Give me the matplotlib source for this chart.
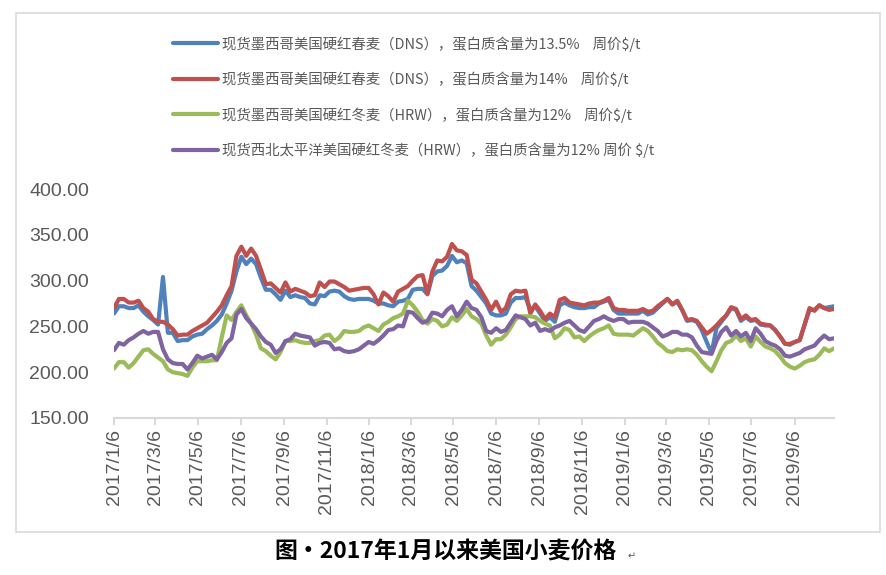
import pandas as pd
import matplotlib
matplotlib.use('Agg')
import matplotlib.pyplot as plt
import matplotlib.dates as mdates
from matplotlib.patches import Rectangle
from matplotlib.ticker import FuncFormatter

plt.rcParams['font.family'] = ['Noto Sans CJK SC', 'DejaVu Sans']

# weekly quotes, Friday 2017/1/6 onward
dates = pd.date_range('2017-01-06', periods=148, freq='7D')

labels = ['现货墨西哥美国硬红春麦（DNS），蛋白质含量为13.5%    周价$/t',
          '现货墨西哥美国硬红春麦（DNS），蛋白质含量为14%    周价$/t',
          '现货墨西哥美国硬红冬麦（HRW），蛋白质含量为12%    周价$/t',
          '现货西北太平洋美国硬红冬麦（HRW），蛋白质含量为12% 周价 $/t']

dns135 = [264, 272, 272, 270, 270, 273, 266, 261, 257, 252,
          304, 243, 243, 234, 235, 235, 239, 241, 242, 247,
          251, 256, 263, 275, 289, 310, 326, 318, 324, 318,
          303, 290, 290, 285, 279, 289, 282, 284, 282, 281,
          275, 274, 284, 283, 288, 289, 288, 283, 280, 279,
          280, 280, 280, 278, 275, 275, 273, 272, 277, 278,
          280, 290, 291, 291, 285, 305, 310, 311, 316, 327,
          320, 322, 319, 294, 289, 282, 275, 264, 262, 262,
          264, 276, 281, 281, 282, 268, 272, 264, 256, 260,
          255, 273, 276, 273, 271, 270, 270, 271, 271, 275,
          277, 279, 268, 264, 264, 264, 264, 264, 267, 263,
          265, 270, 275, 280, 274, 277, 268, 256, 257, 255,
          246, 233, 221, 248, 255, 262, 270, 268, 256, 260,
          256, 257, 252, 251, 251, 246, 239, 231, 230, 233,
          235, 252, 268, 268, 273, 270, 271, 272]

dns14 = [270, 280, 280, 276, 276, 278, 270, 266, 258, 255,
         255, 252, 247, 240, 241, 241, 245, 248, 251, 254,
         260, 266, 273, 284, 294, 327, 337, 327, 335, 327,
         312, 296, 297, 292, 287, 298, 288, 291, 289, 287,
         283, 284, 298, 293, 299, 299, 296, 293, 289, 290,
         291, 292, 292, 285, 274, 287, 283, 277, 288, 291,
         294, 300, 305, 306, 286, 310, 322, 321, 326, 340,
         333, 332, 328, 301, 297, 288, 279, 268, 277, 266,
         270, 285, 289, 288, 289, 264, 274, 267, 258, 264,
         260, 279, 281, 276, 275, 274, 273, 275, 276, 276,
         278, 281, 270, 268, 268, 267, 267, 267, 269, 266,
         267, 272, 276, 280, 274, 278, 268, 257, 258, 256,
         249, 242, 246, 251, 257, 262, 271, 269, 258, 262,
         257, 258, 253, 252, 251, 246, 239, 231, 231, 233,
         235, 252, 270, 267, 273, 270, 268, 269]

hrw_mx = [204, 211, 211, 205, 210, 217, 224, 225, 220, 216,
          212, 203, 200, 199, 198, 196, 205, 212, 212, 212,
          213, 213, 238, 262, 257, 266, 273, 262, 253, 241,
          226, 223, 218, 214, 222, 234, 234, 235, 233, 232,
          232, 234, 235, 240, 241, 234, 238, 245, 244, 244,
          245, 249, 251, 248, 245, 252, 255, 259, 261, 264,
          278, 273, 266, 257, 253, 258, 256, 250, 252, 260,
          256, 262, 269, 261, 258, 253, 240, 230, 236, 236,
          241, 249, 258, 261, 261, 261, 260, 256, 253, 251,
          237, 241, 248, 246, 238, 239, 234, 239, 243, 246,
          248, 251, 242, 241, 241, 241, 240, 244, 248, 245,
          239, 232, 228, 223, 222, 225, 224, 225, 224, 219,
          212, 206, 201, 212, 224, 232, 234, 240, 234, 237,
          228, 239, 233, 228, 226, 223, 217, 210, 206, 204,
          207, 211, 213, 214, 219, 226, 223, 226]

hrw_pnw = [224, 232, 230, 235, 238, 242, 245, 242, 244, 244,
           225, 214, 210, 209, 209, 203, 210, 218, 215, 217,
           219, 214, 222, 232, 237, 263, 269, 259, 253, 247,
           239, 233, 230, 221, 225, 234, 236, 242, 240, 239,
           238, 229, 232, 233, 232, 225, 226, 223, 222, 223,
           225, 229, 233, 231, 235, 240, 246, 247, 251, 250,
           266, 265, 259, 254, 256, 265, 264, 261, 268, 272,
           261, 268, 277, 270, 268, 260, 245, 243, 248, 244,
           246, 254, 262, 260, 258, 251, 254, 245, 247, 245,
           249, 251, 254, 256, 251, 246, 244, 250, 256, 258,
           261, 258, 256, 258, 258, 254, 255, 255, 255, 253,
           249, 245, 239, 241, 244, 244, 241, 241, 238, 229,
           222, 221, 220, 234, 244, 249, 240, 245, 239, 243,
           234, 248, 242, 234, 231, 229, 225, 218, 217, 219,
           221, 225, 227, 229, 235, 240, 236, 237]

colors = ['#4F81BD', '#C0504D', '#9BBB59', '#8064A2']
gray = '#595959'

fig = plt.figure(figsize=(8.86, 5.75), dpi=100)
ax = fig.add_axes([114/886, 1-418/575, 720/886, 229/575])

for vals, c, lab in zip([dns135, dns14, hrw_mx, hrw_pnw], colors, labels):
    ax.plot(dates, vals, color=c, lw=3.0, label=lab, solid_capstyle='round')

ax.set_xlim(dates[0], dates[-1])
ax.set_ylim(150, 400)
ax.set_yticks([150, 200, 250, 300, 350, 400])
ax.yaxis.set_major_formatter(FuncFormatter(lambda v, p: f'{v:.2f}'))

ax.xaxis.set_major_locator(mdates.MonthLocator(bymonth=range(1, 13, 2), bymonthday=6))
def fmt_date(x, pos):
    d = mdates.num2date(x)
    return f'{d.year}/{d.month}/{d.day}'
ax.xaxis.set_major_formatter(FuncFormatter(fmt_date))

for s in ['top', 'right', 'left']:
    ax.spines[s].set_visible(False)
ax.spines['bottom'].set_color('#d9d9d9')
ax.spines['bottom'].set_linewidth(1.5)
ax.tick_params(axis='y', length=0, pad=18, labelcolor=gray, labelsize=14)
ax.tick_params(axis='x', length=5, width=1.5, color='#d9d9d9', pad=3,
               labelcolor=gray, labelsize=14, labelrotation=90)
for t in ax.get_xticklabels() + ax.get_yticklabels():
    t.set_family('Liberation Sans')

leg = ax.legend(loc='upper left', bbox_to_anchor=(173/886, 1-36/575),
                bbox_transform=fig.transFigure, frameon=False,
                handlelength=3.1, handletextpad=0.3, labelspacing=1.38,
                borderpad=0, borderaxespad=0, fontsize=10.4, labelcolor=gray)

# chart border
fig.patches.append(Rectangle((16/886, 1-532/575), 864/886, 519/575,
                             transform=fig.transFigure, fill=False,
                             edgecolor='#d9d9d9', lw=1.2))

fig.text(446/886, 1-552/575, '图·2017年1月以来美国小麦价格', ha='center', va='center',
         fontsize=16.5, fontweight='bold', color='black')
fig.text(628/886, 1-556/575, '↵', ha='left', va='center', fontsize=7, color=gray,
         family=['DejaVu Sans'])

fig.savefig('out.png', dpi=100)
